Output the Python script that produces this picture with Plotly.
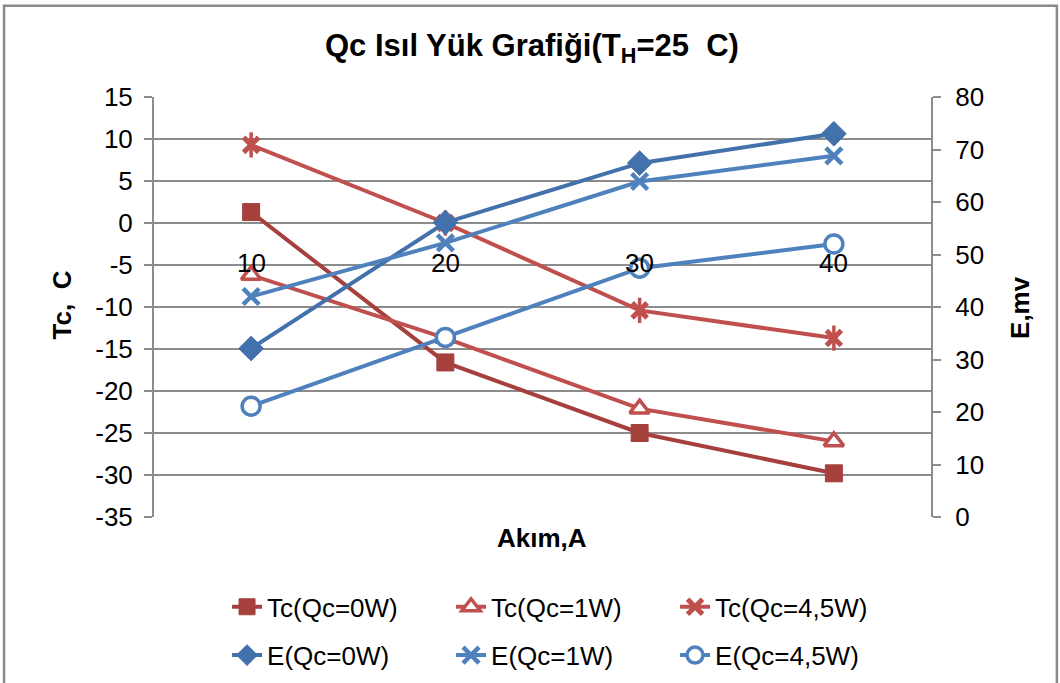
import plotly.graph_objects as go

# Current values (A) and measured series
categories = ["10", "20", "30", "40"]
tc_0w = [1.3, -16.6, -25.0, -29.8]
tc_1w = [-6.2, -13.7, -22.1, -26.0]
tc_45w = [9.3, 0.0, -10.4, -13.7]
e_0w = [32.1, 56.1, 67.4, 73.0]
e_1w = [42.0, 52.2, 63.9, 68.8]
e_45w = [21.1, 34.2, 47.4, 52.0]

left_ticks = list(range(-35, 20, 5))
right_ticks = list(range(0, 90, 10))

RED_DARK = "#A5403D"
RED = "#C0504D"
BLUE_DARK = "#4371AC"
BLUE = "#4F81BD"
GRID = "#8C8C8C"
FONT = "Liberation Sans, Arial, sans-serif"
LW = 4

fig = go.Figure()

# Temperature series (left axis)
fig.add_trace(go.Scatter(
    x=categories, y=tc_0w, name="Tc(Qc=0W)", mode="lines+markers",
    line=dict(color=RED_DARK, width=LW),
    marker=dict(symbol="square", size=17, color=RED_DARK,
                line=dict(color=RED_DARK, width=1)),
    legend="legend"))
fig.add_trace(go.Scatter(
    x=categories, y=tc_1w, name="Tc(Qc=1W)", mode="lines+markers",
    line=dict(color=RED, width=LW),
    marker=dict(symbol="triangle-up", size=17, color="white",
                line=dict(color=RED, width=3.5)),
    legend="legend"))
fig.add_trace(go.Scatter(
    x=categories, y=tc_45w, name="Tc(Qc=4,5W)", mode="lines+markers",
    line=dict(color=RED, width=LW),
    marker=dict(symbol="x-thin", size=15, color=RED,
                line=dict(color=RED, width=5)),
    legend="legend"))
# vertical stroke completing the star marker
fig.add_trace(go.Scatter(
    x=categories, y=tc_45w, mode="markers", showlegend=False,
    marker=dict(symbol="line-ns", size=18, color=RED,
                line=dict(color=RED, width=3.5)),
    hoverinfo="skip"))

# Voltage series (right axis)
fig.add_trace(go.Scatter(
    x=categories, y=e_0w, name="E(Qc=0W)", mode="lines+markers", yaxis="y2",
    line=dict(color=BLUE_DARK, width=LW),
    marker=dict(symbol="diamond", size=19, color=BLUE_DARK,
                line=dict(color=BLUE_DARK, width=1)),
    legend="legend2"))
fig.add_trace(go.Scatter(
    x=categories, y=e_1w, name="E(Qc=1W)", mode="lines+markers", yaxis="y2",
    line=dict(color=BLUE, width=LW),
    marker=dict(symbol="x-thin", size=16, color=BLUE,
                line=dict(color=BLUE, width=4.5)),
    legend="legend2"))
fig.add_trace(go.Scatter(
    x=categories, y=e_45w, name="E(Qc=4,5W)", mode="lines+markers", yaxis="y2",
    line=dict(color=BLUE, width=LW),
    marker=dict(symbol="circle", size=18, color="white",
                line=dict(color=BLUE, width=3.5)),
    legend="legend2"))

annotations = [
    dict(text="<b>Qc Isıl Yük Grafiği(T<sub>H</sub>=25  C)</b>",
         xref="paper", yref="paper", x=0.486, y=1.117,
         xanchor="center", yanchor="middle", showarrow=False,
         font=dict(size=31, color="black", family=FONT)),
    dict(text="<b>Akım,A</b>", xref="paper", yref="paper",
         x=0.499, y=-0.05, xanchor="center", yanchor="middle",
         showarrow=False, font=dict(size=26, color="black", family=FONT)),
    dict(text="<b>Tc,  C</b>", xref="paper", yref="paper",
         x=-0.119, y=0.505, textangle=-90, xanchor="center", yanchor="middle",
         showarrow=False, font=dict(size=26, color="black", family=FONT)),
    dict(text="<b>E,mv</b>", xref="paper", yref="paper",
         x=1.1145, y=0.5, textangle=-90, xanchor="center", yanchor="middle",
         showarrow=False, font=dict(size=26, color="black", family=FONT)),
]
# category labels sit inside the plot, next to the zero crossing
for i, c in enumerate(categories):
    annotations.append(dict(
        text=c, x=i, y=-4.8, xref="x", yref="y", showarrow=False,
        xanchor="center", yanchor="middle",
        font=dict(size=26, color="black", family=FONT)))

fig.update_layout(
    width=1060, height=683,
    margin=dict(l=154, r=129, t=97, b=166, autoexpand=False),
    paper_bgcolor="white", plot_bgcolor="white",
    font=dict(family=FONT, color="black", size=26),
    annotations=annotations,
    xaxis=dict(type="category", range=[-0.5, 3.5], showticklabels=False,
               showgrid=False, zeroline=False, showline=False, ticks=""),
    yaxis=dict(range=[-35, 15], tickvals=left_ticks,
               ticktext=[str(v) for v in left_ticks], showgrid=True,
               gridcolor=GRID, gridwidth=1.5, zeroline=False,
               showline=True, linecolor=GRID, linewidth=2,
               ticks="outside", ticklen=8, tickcolor=GRID, tickwidth=1.5,
               ticklabelstandoff=6, automargin=False,
               tickfont=dict(size=26, family=FONT, color="black")),
    yaxis2=dict(range=[0, 80], tickvals=right_ticks,
                ticktext=[str(v) for v in right_ticks], overlaying="y",
                side="right", showgrid=False, zeroline=False,
                showline=True, linecolor=GRID, linewidth=2,
                ticks="outside", ticklen=8, tickcolor=GRID, tickwidth=1.5,
                ticklabelstandoff=9, automargin=False,
                tickfont=dict(size=26, family=FONT, color="black")),
    legend=dict(orientation="h", x=0.094, y=-0.214, xanchor="left",
                yanchor="middle", entrywidth=179, entrywidthmode="pixels",
                font=dict(size=26, family=FONT, color="black"),
                bgcolor="rgba(0,0,0,0)"),
    legend2=dict(orientation="h", x=0.094, y=-0.329, xanchor="left",
                 yanchor="middle", entrywidth=179, entrywidthmode="pixels",
                 font=dict(size=26, family=FONT, color="black"),
                 bgcolor="rgba(0,0,0,0)"),
    shapes=[dict(type="rect", xref="paper", yref="paper",
                 x0=-0.193, x1=1.162, y0=-0.42, y1=1.217,
                 line=dict(color="#8A8A8A", width=2.5),
                 fillcolor="rgba(0,0,0,0)", layer="below")],
    showlegend=True,
)

fig.write_html("out.html")
